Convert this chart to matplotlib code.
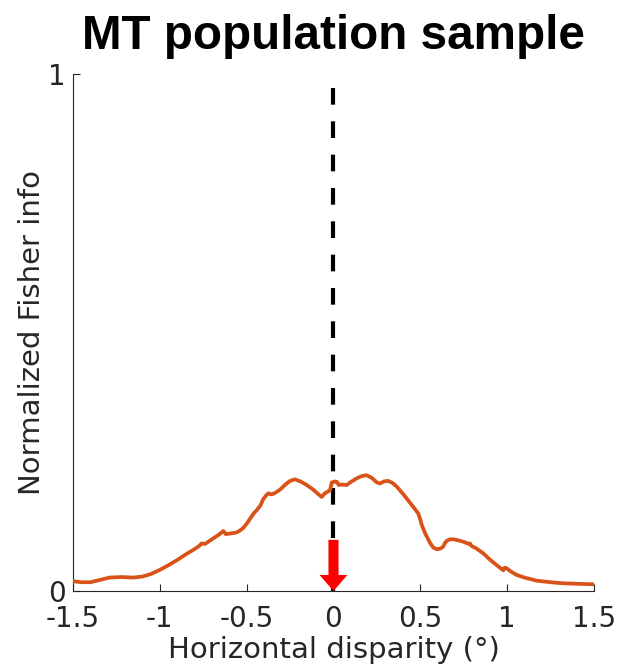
import matplotlib
matplotlib.use("Agg")
import matplotlib.pyplot as plt

# Normalized Fisher information across horizontal disparity
disparity = [-1.5, -1.45, -1.40, -1.35, -1.29, -1.22, -1.15, -1.10, -1.05, -1.0,
             -0.95, -0.90, -0.85, -0.80, -0.77, -0.76, -0.74, -0.70, -0.66, -0.634,
             -0.62, -0.60, -0.56, -0.538, -0.52, -0.50, -0.48, -0.46, -0.44, -0.42,
             -0.404, -0.39, -0.375, -0.36, -0.347, -0.33, -0.308, -0.28, -0.25, -0.222,
             -0.19, -0.154, -0.12, -0.09, -0.068, -0.05, -0.039, -0.02, -0.01, 0.0,
             0.009, 0.02, 0.03, 0.047, 0.076, 0.10, 0.134, 0.16, 0.191, 0.22,
             0.25, 0.268, 0.29, 0.315, 0.34, 0.364, 0.40, 0.44, 0.47, 0.488,
             0.50, 0.508, 0.53, 0.556, 0.575, 0.594, 0.615, 0.632, 0.642, 0.652,
             0.67, 0.69, 0.72, 0.75, 0.78, 0.786, 0.795, 0.82, 0.862, 0.90,
             0.94, 0.978, 0.985, 0.997, 1.02, 1.055, 1.10, 1.17, 1.25, 1.32,
             1.40, 1.5]
fisher_info = [0.019, 0.017, 0.017, 0.021, 0.026, 0.027, 0.026, 0.028, 0.033, 0.041,
               0.050, 0.060, 0.071, 0.081, 0.088, 0.092, 0.091, 0.100, 0.109, 0.116,
               0.110, 0.111, 0.113, 0.117, 0.122, 0.130, 0.140, 0.150, 0.157, 0.166,
               0.178, 0.184, 0.189, 0.187, 0.188, 0.191, 0.196, 0.205, 0.213, 0.216,
               0.212, 0.205, 0.197, 0.188, 0.182, 0.189, 0.191, 0.195, 0.210, 0.211,
               0.212, 0.211, 0.205, 0.206, 0.205, 0.211, 0.218, 0.222, 0.224, 0.219,
               0.210, 0.208, 0.212, 0.213, 0.209, 0.202, 0.188, 0.171, 0.158, 0.150,
               0.138, 0.128, 0.110, 0.093, 0.084, 0.081, 0.082, 0.086, 0.093, 0.097,
               0.100, 0.100, 0.098, 0.095, 0.091, 0.092, 0.087, 0.083, 0.073, 0.061,
               0.050, 0.040, 0.045, 0.044, 0.038, 0.031, 0.026, 0.020, 0.017, 0.015,
               0.014, 0.013]

x_ticks = [-1.5, -1, -0.5, 0, 0.5, 1, 1.5]
x_tick_labels = ["-1.5", "-1", "-0.5", "0", "0.5", "1", "1.5"]
y_ticks = [0, 1]
y_tick_labels = ["0", "1"]

reference_disparity = 0.0
dashed_top = 0.972
arrow_start = 0.099

plt.rcParams["font.family"] = ["DejaVu Sans"]

fig = plt.figure(figsize=(6.17, 6.71), dpi=100)
ax = fig.add_axes([0.1183, 0.1192, 0.8444, 0.7705])

ax.plot(disparity, fisher_info, color="#D95319", lw=2.7, solid_joinstyle="round",
        zorder=3)
ax.plot([reference_disparity, reference_disparity], [dashed_top, 0], color="black",
        lw=3, dashes=(4, 4), zorder=2)
ax.arrow(reference_disparity, arrow_start, 0, -arrow_start, width=0.058,
         head_width=0.16, head_length=0.031, length_includes_head=True,
         color="red", lw=0, zorder=4)

ax.set_xlim(-1.5, 1.5)
ax.set_ylim(0, 1)
ax.set_xticks(x_ticks)
ax.set_xticklabels(x_tick_labels)
ax.set_yticks(y_ticks)
ax.set_yticklabels(y_tick_labels)

for side in ("top", "right"):
    ax.spines[side].set_visible(False)
for side in ("left", "bottom"):
    ax.spines[side].set_color("#262626")
    ax.spines[side].set_linewidth(0.8)
ax.tick_params(direction="in", length=5, width=0.8, color="#262626",
               labelcolor="#262626", labelsize=20)
ax.tick_params(axis="x", pad=10)
ax.tick_params(axis="y", pad=5)

ax.set_xlabel("Horizontal disparity (°)", fontsize=21, color="#262626", labelpad=2)
ax.set_ylabel("Normalized Fisher info", fontsize=21, color="#262626", labelpad=2)
fig.text(333.5 / 617, 1 - 49 / 671, "MT population sample", ha="center",
         va="baseline", fontsize=34.3, fontweight="bold", family="Liberation Sans",
         color="black")

fig.savefig("out.png", dpi=100)
